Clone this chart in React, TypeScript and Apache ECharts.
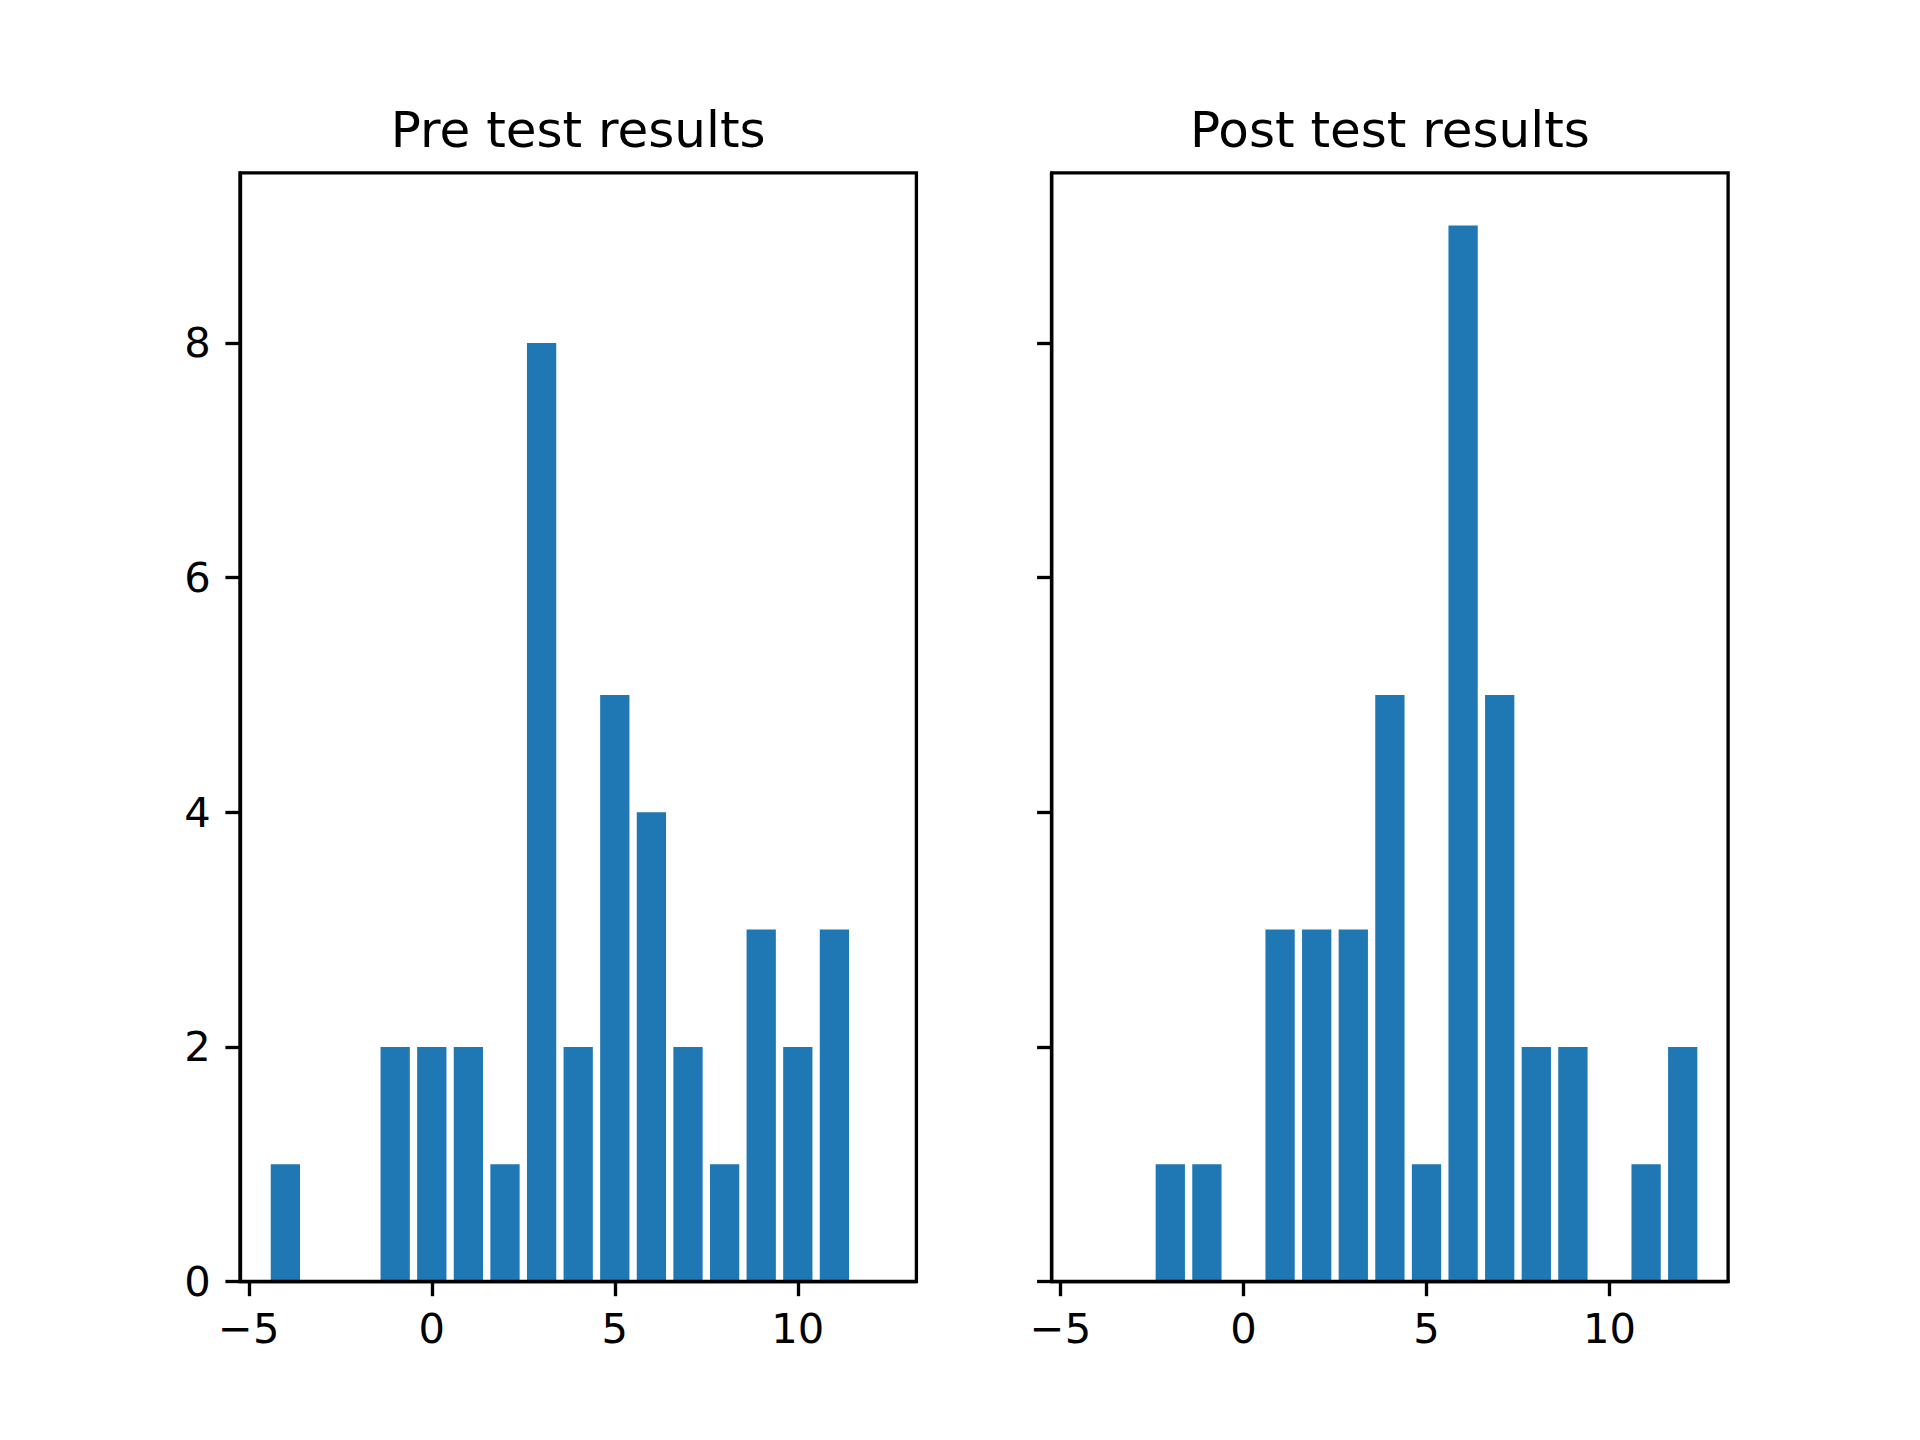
import React, { useEffect, useRef } from "react";
import * as echarts from "echarts";

const preX = [-4, -1, 0, 1, 2, 3, 4, 5, 6, 7, 8, 9, 10, 11];
const preY = [1, 2, 2, 2, 1, 8, 2, 5, 4, 2, 1, 3, 2, 3];
const postX = [-2, -1, 1, 2, 3, 4, 5, 6, 7, 8, 9, 11, 12];
const postY = [1, 1, 3, 3, 3, 5, 1, 9, 5, 2, 2, 1, 2];
const titles = ["Pre test results", "Post test results"];
const xTicks = [-5, 0, 5, 10];
const yTicks = [0, 2, 4, 6, 8];
const xMin = -5.24;
const xMax = 13.24;
const yMin = 0;
const yMax = 9.45;
const barWidth = 0.8;

const FONT = "DejaVu Sans";
const LW = 3.33;
const TICK = 14.6;
const PAD = 14.6;

export default function App() {
  const ref = useRef<HTMLDivElement>(null);
  useEffect(() => {
    document.body.style.margin = "0";
    if (!ref.current) return;
    const chart = echarts.init(ref.current, undefined, { renderer: "svg" });
    const W = 1920;
    const axW = 676.4;
    const lefts = [240, 240 + axW + 135.3];
    const top = 172.8;
    const height = 1108.8;

    const renderItem = (params: any, api: any) => {
      const x = api.value(0);
      const y = api.value(1);
      const p0 = api.coord([x - barWidth / 2, y]);
      const p1 = api.coord([x + barWidth / 2, 0]);
      return {
        type: "rect",
        shape: { x: p0[0], y: p0[1], width: p1[0] - p0[0], height: p1[1] - p0[1] },
        style: { fill: "#1f77b4" },
      };
    };

    const datasets = [
      preX.map((x, i) => [x, preY[i]]),
      postX.map((x, i) => [x, postY[i]]),
    ];

    const option: any = {
      animation: false,
      grid: lefts.map((l) => ({
        left: l,
        width: axW,
        top: top,
        height: height,
        show: true,
        borderColor: "#000",
        borderWidth: LW,
        backgroundColor: "transparent",
        containLabel: false,
      })),
      xAxis: [0, 1].map((i) => ({
        type: "value",
        gridIndex: i,
        min: xMin,
        max: xMax,
        z: 5,
        splitLine: { show: false },
        axisLine: { show: true, onZero: false, lineStyle: { color: "#000", width: LW } },
        axisTick: {
          show: true,
          length: TICK,
          inside: false,
          lineStyle: { color: "#000", width: LW },
          customValues: xTicks,
        },
        axisLabel: {
          show: true,
          margin: TICK + PAD - 3,
          color: "#000",
          fontFamily: FONT,
          fontSize: 41.67,
          customValues: xTicks,
          formatter: (v: number) => String(v).replace("-", "\u2212"),
        },
      })),
      yAxis: [0, 1].map((i) => ({
        type: "value",
        gridIndex: i,
        min: yMin,
        max: yMax,
        z: 5,
        splitLine: { show: false },
        axisLine: { show: true, onZero: false, lineStyle: { color: "#000", width: LW } },
        axisTick: {
          show: true,
          length: TICK,
          inside: false,
          lineStyle: { color: "#000", width: LW },
          customValues: yTicks,
        },
        axisLabel: {
          show: i === 0,
          margin: TICK + PAD,
          color: "#000",
          fontFamily: FONT,
          fontSize: 41.67,
          customValues: yTicks,
        },
      })),
      series: [0, 1].map((i) => ({
        type: "custom",
        xAxisIndex: i,
        yAxisIndex: i,
        renderItem,
        encode: { x: 0, y: 1 },
        data: datasets[i],
        z: 2,
      })),
      graphic: titles.map((t, i) => ({
        type: "text",
        x: lefts[i] + axW / 2,
        y: top - 25 - 17.5,
        style: {
          text: t,
          fontFamily: FONT,
          fontSize: 50,
          fill: "#000",
          align: "center",
          verticalAlign: "middle",
        },
      })),
    };
    chart.setOption(option);
    return () => chart.dispose();
  }, []);
  return <div ref={ref} style={{ width: 1920, height: 1440 }} />;
}
